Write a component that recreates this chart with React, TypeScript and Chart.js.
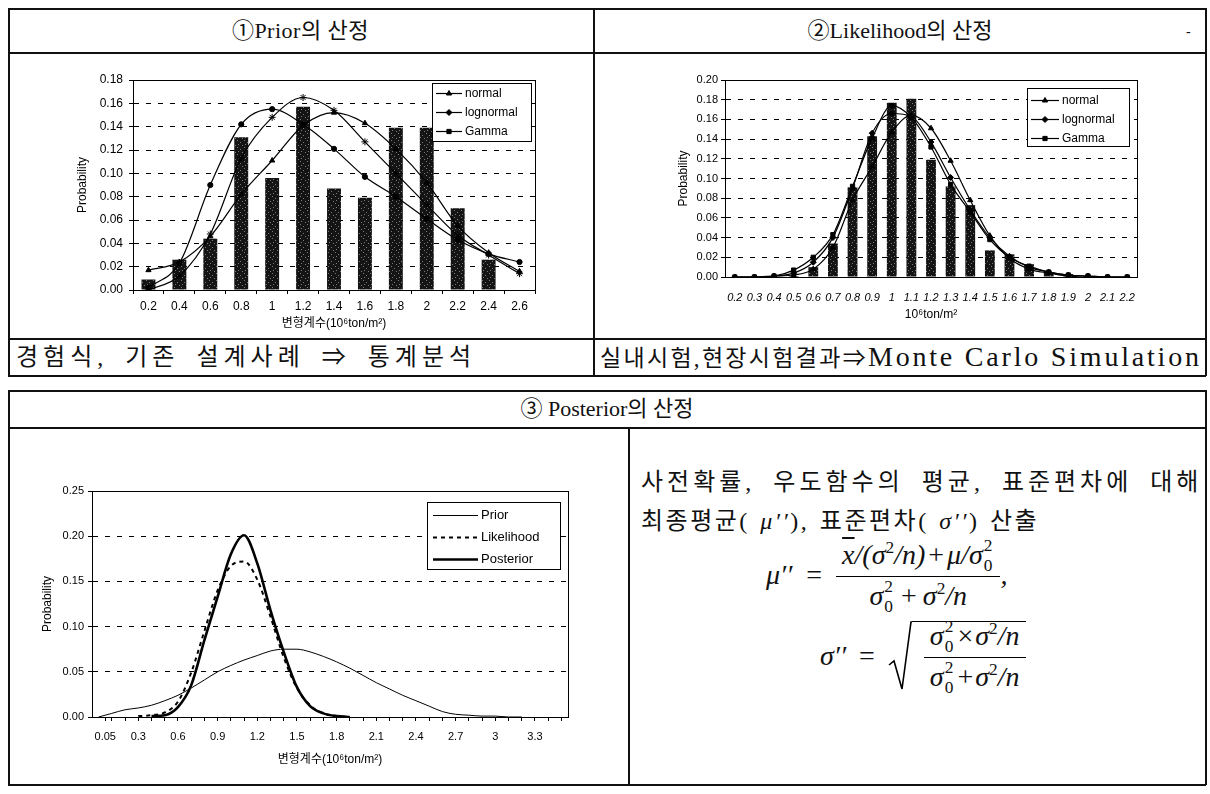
import React, { useEffect, useRef } from 'react';
import { Chart, registerables } from 'chart.js';
import { drawPoint } from 'chart.js/helpers';

Chart.register(...registerables);

const FONT = "'Liberation Sans', Arial, 'Noto Sans CJK KR', sans-serif";
const SERIF = "'Liberation Serif', 'Times New Roman', 'Noto Sans CJK KR', serif";

// ---------- Chart 1 : Prior ----------
const priorCategories = ['0.2', '0.4', '0.6', '0.8', '1', '1.2', '1.4', '1.6', '1.8', '2', '2.2', '2.4', '2.6'];
const priorBars = [0.009, 0.026, 0.044, 0.131, 0.096, 0.157, 0.087, 0.079, 0.139, 0.139, 0.070, 0.026, 0];
const priorNormal = [0.017, 0.024, 0.046, 0.082, 0.111, 0.141, 0.152, 0.143, 0.121, 0.092, 0.055, 0.032, 0.016];
const priorLognormal = [0.002, 0.023, 0.090, 0.142, 0.155, 0.142, 0.121, 0.097, 0.080, 0.061, 0.043, 0.031, 0.024];
const priorGamma = [0.000, 0.012, 0.048, 0.113, 0.148, 0.165, 0.154, 0.127, 0.100, 0.073, 0.047, 0.030, 0.014];

// ---------- Chart 2 : Likelihood ----------
const likeCategories = ['0.2', '0.3', '0.4', '0.5', '0.6', '0.7', '0.8', '0.9', '1', '1.1', '1.2', '1.3', '1.4', '1.5', '1.6', '1.7', '1.8', '1.9', '2', '2.1', '2.2'];
const likeBars = [0, 0, 0, 0.001, 0.010, 0.034, 0.091, 0.143, 0.177, 0.181, 0.119, 0.092, 0.073, 0.027, 0.023, 0.013, 0.005, 0.003, 0.001, 0, 0];
const likeNormal = [0, 0, 0.001, 0.002, 0.008, 0.030, 0.078, 0.112, 0.147, 0.164, 0.151, 0.118, 0.078, 0.042, 0.019, 0.008, 0.004, 0.001, 0, 0, 0];
const likeLognormal = [0, 0, 0.001, 0.004, 0.015, 0.040, 0.090, 0.146, 0.166, 0.163, 0.137, 0.101, 0.068, 0.040, 0.021, 0.010, 0.005, 0.002, 0.001, 0, 0];
const likeGamma = [0, 0, 0.001, 0.007, 0.020, 0.043, 0.092, 0.141, 0.174, 0.162, 0.132, 0.094, 0.066, 0.038, 0.020, 0.011, 0.005, 0.002, 0.001, 0, 0];

const distNames = ['normal', 'lognormal', 'Gamma'];

// ---------- Chart 3 : Posterior ----------
const postX = [0, 0.1, 0.2, 0.3, 0.4, 0.5, 0.6, 0.7, 0.8, 0.9, 1.0, 1.1, 1.2, 1.3, 1.4, 1.5, 1.6, 1.7, 1.8, 1.9, 2.0, 2.1, 2.2, 2.3, 2.4, 2.5, 2.6, 2.7, 2.8, 2.9, 3.0, 3.1, 3.2];
const postPrior = [0.000, 0.004, 0.008, 0.010, 0.013, 0.018, 0.024, 0.032, 0.041, 0.050, 0.057, 0.063, 0.068, 0.073, 0.075, 0.075, 0.072, 0.067, 0.061, 0.054, 0.046, 0.038, 0.031, 0.024, 0.018, 0.012, 0.006, 0.003, 0.002, 0.001, 0.001, 0.000, 0.000];
const postLikelihood = [null, null, null, 0.001, 0.002, 0.005, 0.017, 0.049, 0.095, 0.140, 0.167, 0.172, 0.152, 0.111, 0.066, 0.032, 0.013, 0.004, 0.001, 0, null, null, null, null, null, null, null, null, null, null, null, null, null];
const postPosterior = [null, null, null, null, 0.001, 0.002, 0.011, 0.035, 0.085, 0.133, 0.180, 0.201, 0.170, 0.118, 0.072, 0.033, 0.012, 0.004, 0.001, 0, null, null, null, null, null, null, null, null, null, null, null, null, null];
const postTickLabels = ['0.05', '0.3', '0.6', '0.9', '1.2', '1.5', '1.8', '2.1', '2.4', '2.7', '3', '3.3'];
const postNames = ['Prior', 'Likelihood', 'Posterior'];

// ---------- helpers ----------
function makePattern(ctx: CanvasRenderingContext2D) {
  const c = document.createElement('canvas');
  c.width = 7;
  c.height = 7;
  const g = c.getContext('2d')!;
  g.fillStyle = '#141414';
  g.fillRect(0, 0, 7, 7);
  g.fillStyle = '#7a7a7a';
  g.fillRect(1, 1, 1, 1);
  g.fillRect(4, 3, 1, 1);
  g.fillRect(2, 5, 1, 1);
  g.fillRect(6, 6, 1, 1);
  return ctx.createPattern(c, 'repeat');
}

const framePlugin = {
  id: 'frame',
  afterDraw(chart: any) {
    const { left, top, right, bottom } = chart.chartArea;
    const ctx = chart.ctx;
    ctx.save();
    ctx.strokeStyle = '#000';
    ctx.lineWidth = 1;
    ctx.setLineDash([]);
    ctx.strokeRect(Math.round(left) + 0.5, Math.round(top) + 0.5, Math.round(right - left), Math.round(bottom - top));
    ctx.restore();
  },
};

type LegendItem = { label: string; dash?: number[]; width: number; pointStyle?: string };
type LegendBox = { x: number; y: number; w: number; h: number; first: number; row: number; pad: number; len: number; font: string };

function legendPlugin(box: LegendBox, items: LegendItem[]) {
  return {
    id: 'boxLegend',
    afterDraw(chart: any) {
      const ctx = chart.ctx as CanvasRenderingContext2D;
      ctx.save();
      ctx.setLineDash([]);
      ctx.fillStyle = '#fff';
      ctx.fillRect(box.x, box.y, box.w, box.h);
      ctx.strokeStyle = '#000';
      ctx.lineWidth = 1;
      ctx.strokeRect(box.x + 0.5, box.y + 0.5, box.w, box.h);
      items.forEach((it, i) => {
        const cy = Math.round(box.y + box.first + i * box.row) + 0.5;
        ctx.beginPath();
        ctx.setLineDash(it.dash || []);
        ctx.lineWidth = it.width;
        ctx.strokeStyle = '#000';
        ctx.moveTo(box.x + box.pad, cy);
        ctx.lineTo(box.x + box.pad + box.len, cy);
        ctx.stroke();
        ctx.setLineDash([]);
        if (it.pointStyle) {
          ctx.fillStyle = '#000';
          ctx.lineWidth = 1;
          drawPoint(ctx, { pointStyle: it.pointStyle as any, radius: 3, borderWidth: 1, rotation: 0 } as any, box.x + box.pad + box.len / 2, cy);
        }
        ctx.fillStyle = '#000';
        ctx.font = box.font;
        ctx.textBaseline = 'middle';
        ctx.textAlign = 'left';
        ctx.fillText(it.label, box.x + box.pad + box.len + 3, cy);
      });
      ctx.restore();
    },
  };
}

function lineDs(label: string, data: any[], pointStyle: string, radius = 3) {
  return {
    type: 'line',
    label,
    data,
    borderColor: '#000',
    borderWidth: 1.2,
    pointStyle,
    pointRadius: radius,
    pointBackgroundColor: '#000',
    pointBorderColor: '#000',
    pointBorderWidth: 1,
    cubicInterpolationMode: 'monotone',
    order: 0,
  };
}

function yAxis(max: number, step: number, width: number, tickPad: number, titlePad: number, fontSize: number) {
  return {
    min: 0,
    max,
    afterFit: (s: any) => {
      s.width = width;
    },
    ticks: {
      stepSize: step,
      color: '#000',
      padding: tickPad,
      font: { family: FONT, size: fontSize },
      callback: (v: any) => Number(v).toFixed(2),
    },
    grid: { color: '#000', lineWidth: 1, drawTicks: true, tickLength: 4, tickBorderDash: [], tickColor: '#000' },
    border: { display: true, color: '#000', dash: [5, 7] },
    title: {
      display: true,
      text: 'Probability',
      color: '#000',
      font: { family: FONT, size: 12 },
      padding: { top: titlePad, bottom: 0 },
    },
  };
}

function ChartBox({ x, y, w, h, build }: { x: number; y: number; w: number; h: number; build: (ctx: CanvasRenderingContext2D) => any }) {
  const ref = useRef<HTMLCanvasElement>(null);
  useEffect(() => {
    const c = ref.current!;
    const chart = new Chart(c, build(c.getContext('2d')!));
    return () => chart.destroy();
  }, []);
  return <canvas ref={ref} width={w} height={h} style={{ position: 'absolute', left: x, top: y, width: w, height: h }} />;
}

// chart 1 canvas: origin (40, 62) 520x273
function buildPrior(ctx: CanvasRenderingContext2D) {
  const pattern = makePattern(ctx);
  return {
    type: 'bar',
    data: {
      labels: priorCategories,
      datasets: [
        lineDs(distNames[0], priorNormal, 'triangle'),
        lineDs(distNames[1], priorLognormal, 'circle', 2.6),
        lineDs(distNames[2], priorGamma, 'star', 3.5),
        { type: 'bar', label: 'freq', data: priorBars, backgroundColor: pattern, borderWidth: 0, barPercentage: 0.45, categoryPercentage: 1, order: 10 },
      ],
    },
    options: {
      responsive: false,
      animation: false,
      events: [],
      layout: { padding: { left: 0, right: 25, top: 18, bottom: 0 } },
      plugins: { legend: { display: false }, tooltip: { enabled: false } },
      scales: {
        x: {
          afterFit: (s: any) => {
            s.height = 45;
          },
          grid: { display: true, drawOnChartArea: false, drawTicks: true, tickLength: 4, color: '#000', offset: true },
          border: { display: true, color: '#000' },
          ticks: { color: '#000', padding: 5, maxRotation: 0, autoSkip: false, font: { family: FONT, size: 12 } },
          title: { display: true, text: '변형계수(10⁶ton/m²)', color: '#000', font: { family: FONT, size: 12 }, padding: { top: 0, bottom: 4 } },
        },
        y: yAxis(0.18, 0.02, 93, 6, 35, 12),
      },
    },
    plugins: [
      framePlugin,
      legendPlugin(
        { x: 392, y: 21, w: 99, h: 58, first: 10, row: 19, pad: 4, len: 26, font: `12px ${FONT}` },
        [
          { label: distNames[0], width: 1.2, pointStyle: 'triangle' },
          { label: distNames[1], width: 1.2, pointStyle: 'rectRot' },
          { label: distNames[2], width: 1.2, pointStyle: 'rect' },
        ]
      ),
    ],
  };
}

// chart 2 canvas: origin (640, 62) 520x268
function buildLike(ctx: CanvasRenderingContext2D) {
  const pattern = makePattern(ctx);
  return {
    type: 'bar',
    data: {
      labels: likeCategories,
      datasets: [
        lineDs(distNames[0], likeNormal, 'triangle'),
        lineDs(distNames[1], likeLognormal, 'rectRot'),
        lineDs(distNames[2], likeGamma, 'rect'),
        { type: 'bar', label: 'freq', data: likeBars, backgroundColor: pattern, borderWidth: 0, barPercentage: 0.5, categoryPercentage: 1, order: 10 },
      ],
    },
    options: {
      responsive: false,
      animation: false,
      events: [],
      layout: { padding: { left: 0, right: 23, top: 18, bottom: 0 } },
      plugins: { legend: { display: false }, tooltip: { enabled: false } },
      scales: {
        x: {
          afterFit: (s: any) => {
            s.height = 53;
          },
          grid: { display: false },
          border: { display: true, color: '#000' },
          ticks: { color: '#000', padding: 6, maxRotation: 0, autoSkip: false, font: { family: FONT, size: 11, style: 'italic' } },
          title: { display: true, text: '10⁶ton/m²', color: '#000', font: { family: FONT, size: 12 }, padding: { top: 0, bottom: 8 } },
        },
        y: yAxis(0.2, 0.02, 85, 3, 36, 11),
      },
    },
    plugins: [
      framePlugin,
      legendPlugin(
        { x: 387, y: 26, w: 102, h: 58, first: 12, row: 19, pad: 4, len: 28, font: `12px ${FONT}` },
        [
          { label: distNames[0], width: 1.2, pointStyle: 'triangle' },
          { label: distNames[1], width: 1.2, pointStyle: 'rectRot' },
          { label: distNames[2], width: 1.2, pointStyle: 'rect' },
        ]
      ),
    ],
  };
}

// chart 3 canvas: origin (20, 470) 580x305
function buildPost() {
  const labelVals = postTickLabels.map(Number);
  const minor: number[] = [];
  for (let i = 1; i <= 35; i++) minor.push(i / 10);
  const tickVals = Array.from(new Set([...labelVals, ...minor])).sort((a, b) => a - b);
  const pts = (ys: (number | null)[]) => postX.map((x, i) => ({ x, y: ys[i] }));
  const ds = (label: string, ys: (number | null)[], width: number, dash: number[]) => ({
    label,
    data: pts(ys),
    borderColor: '#000',
    borderWidth: width,
    borderDash: dash,
    pointRadius: 0,
    cubicInterpolationMode: 'monotone',
    spanGaps: false,
  });
  return {
    type: 'line',
    data: {
      datasets: [
        ds(postNames[2], postPosterior, 2.6, []),
        ds(postNames[1], postLikelihood, 2, [4, 4]),
        ds(postNames[0], postPrior, 1, []),
      ],
    },
    options: {
      responsive: false,
      animation: false,
      events: [],
      layout: { padding: { left: 0, right: 32, top: 21, bottom: 0 } },
      plugins: { legend: { display: false }, tooltip: { enabled: false } },
      scales: {
        x: {
          type: 'linear',
          min: -0.05,
          max: 3.55,
          afterFit: (s: any) => {
            s.height = 58;
          },
          afterBuildTicks: (s: any) => {
            s.ticks = tickVals.map((v) => ({ value: v }));
          },
          grid: { display: true, drawOnChartArea: false, drawTicks: true, tickLength: 4, color: '#000' },
          border: { display: true, color: '#000' },
          ticks: {
            color: '#000',
            padding: 9,
            maxRotation: 0,
            autoSkip: false,
            font: { family: FONT, size: 11 },
            callback: (v: any) => {
              const idx = labelVals.findIndex((l) => Math.abs(l - Number(v)) < 1e-6);
              return idx >= 0 ? postTickLabels[idx] : '';
            },
          },
          title: { display: true, text: '변형계수(10⁶ton/m²)', color: '#000', font: { family: FONT, size: 12 }, padding: { top: 0, bottom: 8 } },
        },
        y: yAxis(0.25, 0.05, 72, 4, 20, 11),
      },
    },
    plugins: [
      framePlugin,
      legendPlugin(
        { x: 407, y: 32, w: 133, h: 67, first: 13, row: 22, pad: 6, len: 45, font: `13px ${FONT}` },
        [
          { label: postNames[0], width: 1 },
          { label: postNames[1], width: 2, dash: [4, 4] },
          { label: postNames[2], width: 2.6 },
        ]
      ),
    ],
  };
}

const lineStyle = (s: React.CSSProperties): React.CSSProperties => ({ position: 'absolute', background: '#111', ...s });

function Txt({ x, y, w, h, size, children, align = 'left', spacing = 0, wordSpacing = 0, family = SERIF }: any) {
  return (
    <div
      style={{
        position: 'absolute',
        left: x,
        top: y,
        width: w,
        height: h,
        lineHeight: `${h}px`,
        fontSize: size,
        fontFamily: family,
        textAlign: align,
        letterSpacing: spacing,
        wordSpacing,
        whiteSpace: 'nowrap',
        overflow: 'hidden',
        color: '#111',
      }}
    >
      {children}
    </div>
  );
}

function S2() {
  return (
    <span style={{ whiteSpace: 'nowrap' }}>
      σ<span style={{ fontSize: '0.62em', position: 'relative', top: '-0.62em', fontStyle: 'normal' }}>2</span>
    </span>
  );
}
function S02() {
  return (
    <span style={{ whiteSpace: 'nowrap' }}>
      σ
      <span style={{ display: 'inline-block', position: 'relative', width: '0.42em', height: '1em' }}>
        <span style={{ position: 'absolute', left: 1, top: 1, fontSize: '0.62em', fontStyle: 'normal', lineHeight: 1 }}>2</span>
        <span style={{ position: 'absolute', left: 1, top: 21, fontSize: '0.62em', fontStyle: 'normal', lineHeight: 1 }}>0</span>
      </span>
    </span>
  );
}

function Frac({ num, den }: any) {
  return (
    <span style={{ display: 'inline-flex', flexDirection: 'column', alignItems: 'center', verticalAlign: 'middle' }}>
      <span style={{ padding: '0 6px 2px', borderBottom: '1.5px solid #000', lineHeight: '31px', whiteSpace: 'nowrap' }}>{num}</span>
      <span style={{ padding: '0 6px', lineHeight: '31px', whiteSpace: 'nowrap' }}>{den}</span>
    </span>
  );
}

const Op = ({ c, m = 5 }: { c: string; m?: number }) => <span style={{ margin: `0 ${m}px`, fontStyle: 'normal' }}>{c}</span>;

function Formulas() {
  const math: React.CSSProperties = { fontFamily: SERIF, fontStyle: 'italic', fontSize: 28, color: '#111', whiteSpace: 'nowrap' };
  return (
    <>
      <div style={{ position: 'absolute', left: 766, top: 540, height: 70, display: 'flex', alignItems: 'center', ...math }}>
        <span>μ′′</span>
        <Op c="=" m={14} />
        <Frac
          num={
            <span>
              <span style={{ textDecoration: 'overline' }}>x</span>/(<S2 />/<span>n</span>)<Op c="+" m={3} />μ/<S02 />
            </span>
          }
          den={
            <span>
              <S02 />
              <Op c="+" m={6} />
              <S2 />/n
            </span>
          }
        />
        <span>,</span>
      </div>
      <div style={{ position: 'absolute', left: 820, top: 620, height: 72, display: 'flex', alignItems: 'center', ...math }}>
        <span>σ′′</span>
        <Op c="=" m={13} />
        <span style={{ display: 'inline-flex', alignItems: 'stretch', height: 70 }}>
          <svg width={24} height={70} style={{ display: 'block' }}>
            <polyline points="1,44 6,40 14,68 23,1 24,1" fill="none" stroke="#000" strokeWidth={1.6} />
          </svg>
          <span style={{ borderTop: '1.6px solid #000', display: 'inline-flex', alignItems: 'center', paddingLeft: 12 }}>
            <Frac
              num={
                <span>
                  <S02 />
                  <Op c="×" m={2} />
                  <S2 />/n
                </span>
              }
              den={
                <span>
                  <S02 />
                  <Op c="+" m={2} />
                  <S2 />/n
                </span>
              }
            />
          </span>
        </span>
      </div>
    </>
  );
}

export default function App() {
  return (
    <div style={{ position: 'absolute', left: 0, top: 0, width: 1210, height: 794, background: '#fff', overflow: 'hidden' }}>
      {/* top table */}
      <div style={lineStyle({ left: 8, top: 8, width: 1198, height: 1.5 })} />
      <div style={lineStyle({ left: 8, top: 52, width: 1198, height: 1.5 })} />
      <div style={lineStyle({ left: 8, top: 338, width: 1198, height: 1.5 })} />
      <div style={lineStyle({ left: 8, top: 375, width: 1198, height: 1.5 })} />
      <div style={lineStyle({ left: 8, top: 8, width: 1.5, height: 368 })} />
      <div style={lineStyle({ left: 593, top: 8, width: 1.5, height: 368 })} />
      <div style={lineStyle({ left: 1205, top: 8, width: 1.5, height: 368 })} />

      {/* bottom table */}
      <div style={lineStyle({ left: 8, top: 390, width: 1198, height: 1.5 })} />
      <div style={lineStyle({ left: 8, top: 427, width: 1198, height: 1.5 })} />
      <div style={lineStyle({ left: 8, top: 784, width: 1198, height: 1.5 })} />
      <div style={lineStyle({ left: 8, top: 390, width: 1.5, height: 395 })} />
      <div style={lineStyle({ left: 628, top: 427, width: 1.5, height: 358 })} />
      <div style={lineStyle({ left: 1205, top: 390, width: 1.5, height: 395 })} />

      <Txt x={8} y={12} w={585} h={38} size={22} align="center" spacing={0.5}>
        ①Prior의 산정
      </Txt>
      <Txt x={594} y={12} w={612} h={38} size={22} align="center">
        ②Likelihood의 산정
      </Txt>
      <Txt x={1186} y={14} w={10} h={36} size={14}>
        -
      </Txt>
      <Txt x={16} y={340} w={570} h={34} size={24} spacing={5} wordSpacing={6}>
        경험식, 기존 설계사례 ⇒ 통계분석
      </Txt>
      <Txt x={600} y={340} w={606} h={34} size={23} spacing={2.3}>
        실내시험,현장시험결과⇒<span style={{ fontSize: 28, letterSpacing: 2.8 }}>Monte Carlo Simulation</span>
      </Txt>
      <Txt x={8} y={391} w={1198} h={36} size={22} align="center">
        ③ Posterior의 산정
      </Txt>
      <Txt x={641} y={466} w={564} h={32} size={24} spacing={4} wordSpacing={8}>
        사전확률, 우도함수의 평균, 표준편차에 대해
      </Txt>
      <Txt x={641} y={505} w={564} h={32} size={24} spacing={2.5} wordSpacing={2}>
        최종평균( <i>μ′′</i>), 표준편차( <i>σ′′</i>) 산출
      </Txt>
      <Formulas />

      <ChartBox x={40} y={62} w={520} h={273} build={buildPrior} />
      <ChartBox x={640} y={62} w={520} h={268} build={buildLike} />
      <ChartBox x={20} y={470} w={580} h={305} build={() => buildPost()} />
    </div>
  );
}
